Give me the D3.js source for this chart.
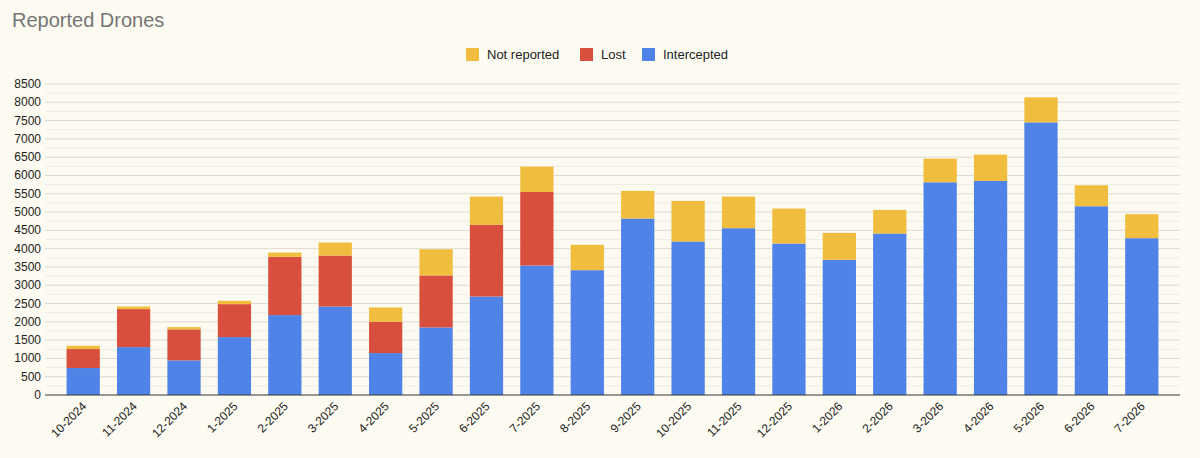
<!DOCTYPE html>
<html>
<head>
<meta charset="utf-8">
<script src="https://cdn.jsdelivr.net/npm/d3@7"></script>
<style>
  body { margin: 0; background: #fdfbf1; }
  svg { font-family: Arial, "Liberation Sans", sans-serif; }
</style>
</head>
<body>
<svg width="1200" height="458"></svg>
<script>
var months = ['10-2024','11-2024','12-2024','1-2025','2-2025','3-2025','4-2025','5-2025','6-2025','7-2025','8-2025',
              '9-2025','10-2025','11-2025','12-2025','1-2026','2-2026','3-2026','4-2026','5-2026','6-2026','7-2026'];
var intercepted = [737,1310,946,1583,2184,2420,1146,1847,2693,3540,3412,4823,4195,4559,4140,3694,4413,5814,5851,7452,5159,4286];
var lost        = [519,1038,847,901,1592,1392,856,1420,1957,2010,0,0,0,0,0,0,0,0,0,0,0,0];
var notReported = [91,72,63,91,118,355,391,718,773,692,692,755,1110,864,956,737,646,646,719,683,573,655];

var keys = ['intercepted', 'lost', 'notReported'];
var colors = { intercepted: '#4f83e8', lost: '#d94f3d', notReported: '#f1bd3f' };
var rows = months.map(function (m, i) {
    return { month: m, intercepted: intercepted[i], lost: lost[i], notReported: notReported[i] };
});

var svg = d3.select('svg'),
    plotLeft = 45, plotRight = 1180, plotTop = 84, plotBottom = 395;

var x = d3.scaleBand().domain(months).range([58, 1167]).paddingInner(0.34).paddingOuter(0.17);
var y = d3.scaleLinear().domain([0, 8500]).range([plotBottom, plotTop]);

// title
svg.append('text').attr('x', 12).attr('y', 27).attr('font-size', 20).attr('fill', '#757575').text('Reported Drones');

// grid
svg.append('g').selectAll('line').data(d3.range(250, 8501, 250)).enter().append('line')
    .attr('x1', plotLeft).attr('x2', plotRight)
    .attr('y1', function (d) { return y(d); }).attr('y2', function (d) { return y(d); })
    .attr('stroke', function (d) { return d % 500 === 0 ? '#dcdad2' : '#eeece4'; })
    .attr('stroke-width', 1);

// y axis labels
svg.append('g').selectAll('text').data(d3.range(0, 8501, 500)).enter().append('text')
    .attr('x', 41).attr('y', function (d) { return y(d) + 4; })
    .attr('text-anchor', 'end').attr('font-size', 12).attr('fill', '#222')
    .text(function (d) { return d; });

// bars
var stack = d3.stack().keys(keys)(rows);
svg.append('g').selectAll('g').data(stack).enter().append('g')
    .attr('fill', function (d) { return colors[d.key]; })
    .selectAll('rect').data(function (d) { return d; }).enter().append('rect')
    .attr('x', function (d) { return x(d.data.month); })
    .attr('width', x.bandwidth())
    .attr('y', function (d) { return y(d[1]); })
    .attr('height', function (d) { return y(d[0]) - y(d[1]); });

// baseline
svg.append('line').attr('x1', plotLeft).attr('x2', plotRight).attr('y1', plotBottom).attr('y2', plotBottom)
    .attr('stroke', '#333').attr('stroke-width', 1);

// x labels
svg.append('g').selectAll('text').data(months).enter().append('text')
    .attr('transform', function (d) {
        return 'translate(' + (x(d) + x.bandwidth() / 2 + 4) + ',' + (plotBottom + 12) + ') rotate(-45)';
    })
    .attr('text-anchor', 'end').attr('font-size', 12).attr('fill', '#222')
    .text(function (d) { return d; });

// legend
var legend = [
    { label: 'Not reported', key: 'notReported', x: 466 },
    { label: 'Lost', key: 'lost', x: 580 },
    { label: 'Intercepted', key: 'intercepted', x: 642 }
];
var lg = svg.append('g').selectAll('g').data(legend).enter().append('g')
    .attr('transform', function (d) { return 'translate(' + d.x + ',48)'; });
lg.append('rect').attr('width', 13).attr('height', 13).attr('fill', function (d) { return colors[d.key]; });
lg.append('text').attr('x', 21).attr('y', 11).attr('font-size', 13).attr('fill', '#222')
    .text(function (d) { return d.label; });
</script>
</body>
</html>
